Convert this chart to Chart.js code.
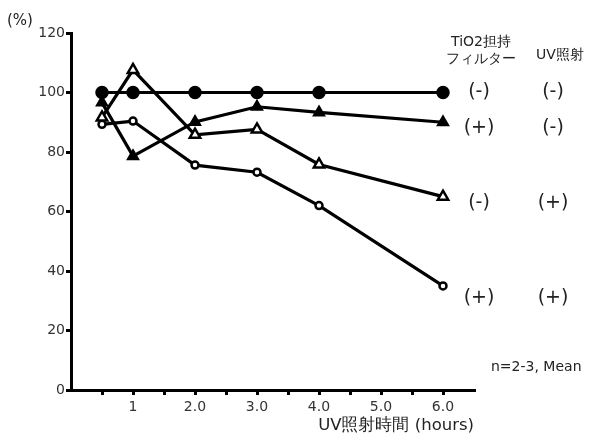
<!DOCTYPE html>
<html><head><meta charset="utf-8">
<script src="https://cdn.jsdelivr.net/npm/chart.js@4"></script>
<style>html,body{margin:0;padding:0;background:#fff}#c{display:block}</style>
</head><body>
<canvas id="c" width="590" height="436"></canvas>
<script>
const hours = [0.5, 1, 2, 3, 4, 6];
const ctrlNoFilterNoUV = [100, 100, 100, 100, 100, 100];
const filterNoUV = [96.6, 78.6, 90.1, 95.2, 93.3, 90.0];
const noFilterUV = [91.6, 107.6, 85.8, 87.6, 75.8, 65.0];
const filterUV = [89.3, 90.4, 75.6, 73.2, 62.0, 35.0];
const yTicks = [0, 20, 40, 60, 80, 100, 120];
const xTickPositions = [0.5, 1, 1.5, 2, 2.5, 3, 3.5, 4, 4.5, 5, 5.5, 6];
const xTickLabels = {1: '1', 2: '2.0', 3: '3.0', 4: '4.0', 5: '5.0', 6: '6.0'};
const colHeaderFilter = ['TiO2担持', 'フィルター'];
const colHeaderUV = 'UV照射';
const rowFilter = ['(-)', '(+)', '(-)', '(+)'];
const rowUV = ['(-)', '(-)', '(+)', '(+)'];
const rowLabelValues = [100, 88, 63, 31];

const FONT = 'DejaVu Sans, Verdana, sans-serif';
const toPts = arr => hours.map((h, i) => ({x: h, y: arr[i]}));

const mk = (data, style, fill, r) => ({
  data: toPts(data), borderColor: '#000', borderWidth: 3.2,
  pointStyle: style, pointRadius: r, pointBackgroundColor: fill,
  pointBorderColor: '#000', pointBorderWidth: 2.5, clip: false, tension: 0
});

const annot = {
  id: 'annot',
  afterDraw(chart) {
    const c = chart.ctx, ys = chart.scales.y;
    c.save();
    c.fillStyle = '#222';
    c.textBaseline = 'middle';
    c.font = '15px ' + FONT;
    c.textAlign = 'left';
    c.fillText('(%)', 7, 21);
    c.font = '14px ' + FONT;
    c.textAlign = 'center';
    c.fillText(colHeaderFilter[0], 481, 42);
    c.fillText(colHeaderFilter[1], 481, 59);
    c.fillText(colHeaderUV, 560, 55);
    c.font = '19px ' + FONT;
    rowLabelValues.forEach((v, i) => {
      const y = ys.getPixelForValue(v);
      c.fillText(rowFilter[i], 479, y);
      c.fillText(rowUV[i], 553, y);
    });
    c.font = '14px ' + FONT;
    c.textAlign = 'left';
    c.fillText('n=2-3, Mean', 491, 367);
    c.restore();
  }
};

new Chart(document.getElementById('c'), {
  type: 'line',
  data: { datasets: [
    mk(ctrlNoFilterNoUV, 'circle', '#000', 5.5),
    mk(filterNoUV, 'triangle', '#000', 5.5),
    mk(noFilterUV, 'triangle', '#fff', 6),
    mk(filterUV, 'circle', '#fff', 3.5)
  ]},
  options: {
    responsive: false, animation: false,
    layout: { padding: { top: 33, right: 116, left: 0, bottom: 0 } },
    plugins: { legend: { display: false }, tooltip: { enabled: false } },
    scales: {
      x: {
        type: 'linear', min: 0, max: 6.5,
        afterBuildTicks: s => { s.ticks = xTickPositions.map(v => ({value: v})); },
        afterFit: s => { s.height = 46; },
        border: { color: '#000', width: 3 },
        grid: { drawOnChartArea: false, color: '#000', lineWidth: 3, tickLength: 5 },
        ticks: { autoSkip: false, maxRotation: 0, color: '#333', padding: 4,
          font: { family: FONT, size: 14 },
          callback: v => xTickLabels[v] || '' },
        title: { display: true, text: 'UV照射時間 (hours)', align: 'end', color: '#222',
          font: { family: FONT, size: 16.5 }, padding: { top: 0, bottom: 0 } }
      },
      y: {
        min: 0, max: 120,
        afterBuildTicks: s => { s.ticks = yTicks.map(v => ({value: v})); },
        afterFit: s => { s.width = 71; },
        border: { color: '#000', width: 3 },
        grid: { drawOnChartArea: false, color: '#000', lineWidth: 3, tickLength: 5 },
        ticks: { color: '#333', padding: 1, font: { family: FONT, size: 14 } }
      }
    }
  },
  plugins: [annot]
});
</script>
</body></html>
